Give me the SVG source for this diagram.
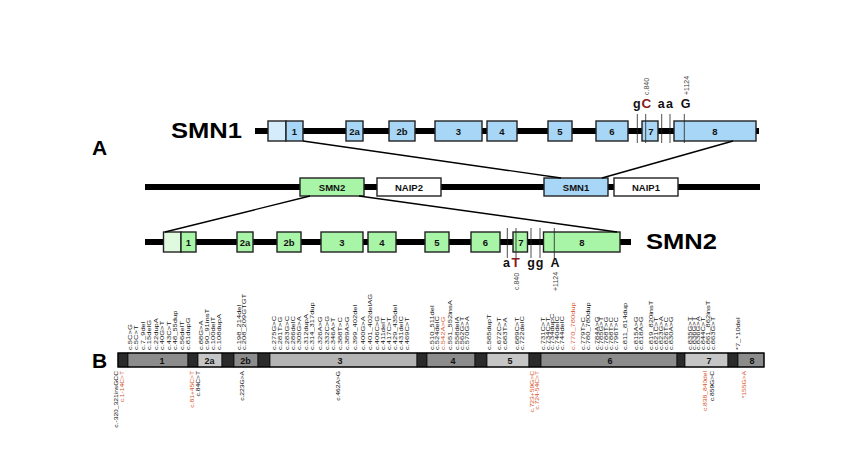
<svg xmlns="http://www.w3.org/2000/svg" width="850" height="449" viewBox="0 0 850 449">
<style>
text{font-family:"Liberation Sans",Arial,sans-serif}
.big{font-size:22px;font-weight:bold;fill:#000}
.ab{font-size:21px;font-weight:bold;fill:#000}
.ex{font-size:9.5px;font-weight:bold;fill:#111;text-anchor:middle}
.bx{font-size:9.5px;font-weight:bold;fill:#111;text-anchor:middle}
.b1{fill:#a8d6f6;stroke:#222;stroke-width:1.4}
.b1u{fill:#d4ecfc;stroke:#222;stroke-width:1.4}
.g1{fill:#a8f5a8;stroke:#222;stroke-width:1.4}
.g1u{fill:#e0fae0;stroke:#222;stroke-width:1.4}
.w1{fill:#fff;stroke:#222;stroke-width:1.4}
.chr{stroke:#000;stroke-width:6}
.snp{stroke:#222;stroke-width:0.8}
.nt{font-size:12.5px;font-weight:bold;fill:#111;text-anchor:middle}
.ntr{font-size:13.5px;font-weight:bold;fill:#8b1a1a;text-anchor:middle}
.pos{font-size:7px;fill:#444}
.conn{stroke:#000;stroke-width:1.4;fill:none}
.in{fill:#2b2b2b;stroke:#111;stroke-width:0.8}
.e1{fill:#8c8c8c;stroke:#111;stroke-width:0.8}
.e2{fill:#c6c6c6;stroke:#111;stroke-width:0.8}
.e3{fill:#b4b4b4;stroke:#111;stroke-width:0.8}
.m{font-size:5.8px;fill:#111}
.r{fill:#d9542b}
.be{font-size:9px;font-weight:bold;fill:#111;text-anchor:middle}
</style>

<text class="ab" x="92" y="155">A</text>
<text class="ab" x="92" y="368">B</text>

<g id="smn1-gene">
<text class="big" x="171" y="137.5" textLength="71" lengthAdjust="spacingAndGlyphs">SMN1</text>
<line class="chr" x1="255" y1="131" x2="759" y2="131"/>
<rect class="b1u" x="268" y="121" width="18" height="20"/>
<rect class="b1" x="286" y="121" width="17" height="20"/>
<text class="ex" x="294.5" y="134.5">1</text>
<rect class="b1" x="346" y="121" width="17" height="20"/><text class="ex" x="354.5" y="134.5">2a</text>
<rect class="b1" x="389" y="121" width="26" height="20"/><text class="ex" x="402" y="134.5">2b</text>
<rect class="b1" x="435" y="121" width="47" height="20"/><text class="ex" x="458.5" y="134.5">3</text>
<rect class="b1" x="487" y="121" width="30" height="20"/><text class="ex" x="502" y="134.5">4</text>
<rect class="b1" x="548" y="121" width="24" height="20"/><text class="ex" x="560" y="134.5">5</text>
<rect class="b1" x="596" y="121" width="32" height="20"/><text class="ex" x="612" y="134.5">6</text>
<rect class="b1" x="642" y="121" width="16" height="20"/><text class="ex" x="651" y="134.5">7</text>
<rect class="b1" x="674" y="121" width="82" height="20"/><text class="ex" x="715" y="134.5">8</text>
<line class="snp" x1="637.3" y1="114" x2="637.3" y2="143"/>
<line class="snp" x1="645.7" y1="114" x2="645.7" y2="143"/>
<line class="snp" x1="661.7" y1="114" x2="661.7" y2="143"/>
<line class="snp" x1="670" y1="114" x2="670" y2="143"/>
<line class="snp" x1="684.3" y1="114" x2="684.3" y2="143"/>
<text class="nt" x="636.7" y="107.7">g</text>
<text class="ntr" x="646.3" y="107.7">C</text>
<text class="nt" x="661.3" y="107.7">a</text>
<text class="nt" x="669.5" y="107.7">a</text>
<text class="nt" x="685.5" y="107.7">G</text>
<text class="pos" transform="translate(649,95) rotate(-90)">c.840</text>
<text class="pos" transform="translate(688.5,95) rotate(-90)">+1124</text>
</g>

<g id="chromosome">
<line class="chr" x1="145" y1="187" x2="760" y2="187"/>
</g>
<g id="smn2-box"><rect class="g1" x="300" y="178" width="64" height="18"/><text class="bx" x="332" y="190.5">SMN2</text></g>
<g id="naip2-box"><rect class="w1" x="377" y="178" width="64" height="18"/><text class="bx" x="409" y="190.5">NAIP2</text></g>
<g id="smn1-box"><rect class="b1" x="544" y="178" width="64" height="18"/><text class="bx" x="576" y="190.5">SMN1</text></g>
<g id="naip1-box"><rect class="w1" x="614" y="178" width="64" height="18"/><text class="bx" x="646" y="190.5">NAIP1</text></g>

<g id="smn2-gene">
<text class="big" x="646" y="249" textLength="71" lengthAdjust="spacingAndGlyphs">SMN2</text>
<line class="chr" x1="145" y1="242" x2="631" y2="242"/>
<rect class="g1u" x="163.5" y="232" width="17.5" height="20"/>
<rect class="g1" x="181" y="232" width="15" height="20"/><text class="ex" x="188.5" y="245.5">1</text>
<rect class="g1" x="237" y="232" width="16" height="20"/><text class="ex" x="245" y="245.5">2a</text>
<rect class="g1" x="277" y="232" width="24" height="20"/><text class="ex" x="289" y="245.5">2b</text>
<rect class="g1" x="321" y="232" width="42" height="20"/><text class="ex" x="342" y="245.5">3</text>
<rect class="g1" x="368" y="232" width="28" height="20"/><text class="ex" x="382" y="245.5">4</text>
<rect class="g1" x="425" y="232" width="24" height="20"/><text class="ex" x="437" y="245.5">5</text>
<rect class="g1" x="471" y="232" width="29" height="20"/><text class="ex" x="485.5" y="245.5">6</text>
<rect class="g1" x="513" y="232" width="14.5" height="20"/><text class="ex" x="521" y="245.5">7</text>
<rect class="g1" x="543.5" y="232" width="76.5" height="20"/><text class="ex" x="582" y="245.5">8</text>
<line class="snp" x1="507.3" y1="228" x2="507.3" y2="258"/>
<line class="snp" x1="516" y1="228" x2="516" y2="258"/>
<line class="snp" x1="531" y1="228" x2="531" y2="258"/>
<line class="snp" x1="540" y1="228" x2="540" y2="258"/>
<line class="snp" x1="554.3" y1="228" x2="554.3" y2="258"/>
<text class="nt" x="506.5" y="267.3">a</text>
<text class="ntr" x="515.7" y="267.3">T</text>
<text class="nt" x="531" y="267.3">g</text>
<text class="nt" x="539.5" y="267.3">g</text>
<text class="nt" x="555" y="267.3">A</text>
<text class="pos" transform="translate(519,290) rotate(-90)">c.840</text>
<text class="pos" transform="translate(557.5,291) rotate(-90)">+1124</text>
</g>

<g id="connectors">
<line class="conn" x1="303" y1="141" x2="561" y2="178"/>
<line class="conn" x1="733" y1="141" x2="602" y2="178"/>
<line class="conn" x1="310" y1="196" x2="165" y2="232"/>
<line class="conn" x1="359" y1="196" x2="617" y2="232"/>
</g>

<g id="transcript-bar">
<rect class="in" x="118" y="353" width="10" height="14"/>
<rect class="e1" x="128" y="353" width="60" height="14"/><text class="be" x="162" y="363.5">1</text>
<rect class="in" x="188" y="353" width="10" height="14"/>
<rect class="e2" x="198" y="353" width="24" height="14"/><text class="be" x="209.5" y="363.5">2a</text>
<rect class="in" x="222" y="353" width="12" height="14"/>
<rect class="e1" x="234" y="353" width="24" height="14"/><text class="be" x="245.5" y="363.5">2b</text>
<rect class="in" x="258" y="353" width="12" height="14"/>
<rect class="e3" x="270" y="353" width="147" height="14"/><text class="be" x="340" y="363.5">3</text>
<rect class="in" x="417" y="353" width="10" height="14"/>
<rect class="e1" x="427" y="353" width="48" height="14"/><text class="be" x="453" y="363.5">4</text>
<rect class="in" x="475" y="353" width="12" height="14"/>
<rect class="e2" x="487" y="353" width="42" height="14"/><text class="be" x="510" y="363.5">5</text>
<rect class="in" x="529" y="353" width="12" height="14"/>
<rect class="e1" x="541" y="353" width="136" height="14"/><text class="be" x="610" y="363.5">6</text>
<rect class="in" x="677" y="353" width="8" height="14"/>
<rect class="e2" x="685" y="353" width="43" height="14"/><text class="be" x="709" y="363.5">7</text>
<rect class="in" x="728" y="353" width="10" height="14"/>
<rect class="e1" x="738" y="353" width="26" height="14"/><text class="be" x="752" y="363.5">8</text>
<rect x="118" y="353" width="646" height="14" fill="none" stroke="#000" stroke-width="1.2"/>
</g>

<g id="mutations-above">
<text class="m" transform="translate(132,350) rotate(-90) scale(1.3,1)">c.5C&gt;G</text>
<text class="m" transform="translate(138.4,350) rotate(-90) scale(1.3,1)">c.5C&gt;T</text>
<text class="m" transform="translate(144.9,350) rotate(-90) scale(1.3,1)">c.7_9del</text>
<text class="m" transform="translate(151.3,350) rotate(-90) scale(1.3,1)">c.15delG</text>
<text class="m" transform="translate(157.8,350) rotate(-90) scale(1.3,1)">c.22dupA</text>
<text class="m" transform="translate(164.2,350) rotate(-90) scale(1.3,1)">c.40G&gt;T</text>
<text class="m" transform="translate(170.7,350) rotate(-90) scale(1.3,1)">c.43C&gt;T</text>
<text class="m" transform="translate(177.1,350) rotate(-90) scale(1.3,1)">c.48_55dup</text>
<text class="m" transform="translate(183.6,350) rotate(-90) scale(1.3,1)">c.56delT</text>
<text class="m" transform="translate(190,350) rotate(-90) scale(1.3,1)">c.81dupG</text>
<text class="m" transform="translate(203,350) rotate(-90) scale(1.3,1)">c.88G&gt;A</text>
<text class="m" transform="translate(208.5,350) rotate(-90) scale(1.3,1)">c.90_91insT</text>
<text class="m" transform="translate(215,350) rotate(-90) scale(1.3,1)">c.100delT</text>
<text class="m" transform="translate(220.5,350) rotate(-90) scale(1.3,1)">c.108dupA</text>
<text class="m" transform="translate(240.7,350) rotate(-90) scale(1.3,1)">c.198_214del</text>
<text class="m" transform="translate(245.7,350) rotate(-90) scale(1.3,1)">c.208_209GTGT</text>
<text class="m" transform="translate(276,350) rotate(-90) scale(1.3,1)">c.275G&gt;C</text>
<text class="m" transform="translate(282.3,350) rotate(-90) scale(1.3,1)">c.281T&gt;G</text>
<text class="m" transform="translate(288.7,350) rotate(-90) scale(1.3,1)">c.283G&gt;C</text>
<text class="m" transform="translate(295,350) rotate(-90) scale(1.3,1)">c.286delC</text>
<text class="m" transform="translate(301.3,350) rotate(-90) scale(1.3,1)">c.305G&gt;A</text>
<text class="m" transform="translate(307.7,350) rotate(-90) scale(1.3,1)">c.312dupA</text>
<text class="m" transform="translate(314,350) rotate(-90) scale(1.3,1)">c.314_317dup</text>
<text class="m" transform="translate(322,350) rotate(-90) scale(1.3,1)">c.326A&gt;G</text>
<text class="m" transform="translate(328.7,350) rotate(-90) scale(1.3,1)">c.332C&gt;G</text>
<text class="m" transform="translate(335.3,350) rotate(-90) scale(1.3,1)">c.346A&gt;T</text>
<text class="m" transform="translate(342,350) rotate(-90) scale(1.3,1)">c.388T&gt;C</text>
<text class="m" transform="translate(348.7,350) rotate(-90) scale(1.3,1)">c.389A&gt;G</text>
<text class="m" transform="translate(357,350) rotate(-90) scale(1.3,1)">c.399_402del</text>
<text class="m" transform="translate(364.5,350) rotate(-90) scale(1.3,1)">c.400G&gt;A</text>
<text class="m" transform="translate(372,350) rotate(-90) scale(1.3,1)">c.401_402delAG</text>
<text class="m" transform="translate(379,350) rotate(-90) scale(1.3,1)">c.406C&gt;G</text>
<text class="m" transform="translate(385,350) rotate(-90) scale(1.3,1)">c.411delT</text>
<text class="m" transform="translate(391,350) rotate(-90) scale(1.3,1)">c.417C&gt;T</text>
<text class="m" transform="translate(397,350) rotate(-90) scale(1.3,1)">c.429_435del</text>
<text class="m" transform="translate(403,350) rotate(-90) scale(1.3,1)">c.431delC</text>
<text class="m" transform="translate(409,350) rotate(-90) scale(1.3,1)">c.469C&gt;T</text>
<text class="m" transform="translate(433.7,350) rotate(-90) scale(1.3,1)">c.510_511del</text>
<text class="m" transform="translate(438.7,350) rotate(-90) scale(1.3,1)">c.524delC</text>
<text class="m r" transform="translate(444.7,350) rotate(-90) scale(1.3,1)">c.542A&gt;G</text>
<text class="m" transform="translate(452,350) rotate(-90) scale(1.3,1)">c.551_552insA</text>
<text class="m" transform="translate(458.7,350) rotate(-90) scale(1.3,1)">c.558delA</text>
<text class="m" transform="translate(463.7,350) rotate(-90) scale(1.3,1)">c.562G&gt;T</text>
<text class="m" transform="translate(468.7,350) rotate(-90) scale(1.3,1)">c.570G&gt;A</text>
<text class="m" transform="translate(491.3,350) rotate(-90) scale(1.3,1)">c.585dupT</text>
<text class="m" transform="translate(501.3,350) rotate(-90) scale(1.3,1)">c.672C&gt;T</text>
<text class="m" transform="translate(507,350) rotate(-90) scale(1.3,1)">c.683T&gt;A</text>
<text class="m" transform="translate(519.3,350) rotate(-90) scale(1.3,1)">c.689C&gt;T</text>
<text class="m" transform="translate(523.7,350) rotate(-90) scale(1.3,1)">c.722delC</text>
<text class="m" transform="translate(545.3,350) rotate(-90) scale(1.3,1)">c.731C&gt;T</text>
<text class="m" transform="translate(549.7,350) rotate(-90) scale(1.3,1)">c.734C&gt;T</text>
<text class="m" transform="translate(554.3,350) rotate(-90) scale(1.3,1)">c.734dupC</text>
<text class="m" transform="translate(559.3,350) rotate(-90) scale(1.3,1)">c.740delC</text>
<text class="m" transform="translate(564.3,350) rotate(-90) scale(1.3,1)">c.744delC</text>
<text class="m r" transform="translate(575.3,350) rotate(-90) scale(1.3,1)">c.770_780dup</text>
<text class="m" transform="translate(585.3,350) rotate(-90) scale(1.3,1)">c.779T&gt;C</text>
<text class="m" transform="translate(590.3,350) rotate(-90) scale(1.3,1)">c.780_780dup</text>
<text class="m" transform="translate(598.7,350) rotate(-90) scale(1.3,1)">c.784A&gt;G</text>
<text class="m" transform="translate(603,350) rotate(-90) scale(1.3,1)">c.785G&gt;T</text>
<text class="m" transform="translate(608,350) rotate(-90) scale(1.3,1)">c.788T&gt;G</text>
<text class="m" transform="translate(613,350) rotate(-90) scale(1.3,1)">c.788T&gt;C</text>
<text class="m" transform="translate(618,350) rotate(-90) scale(1.3,1)">c.796T&gt;C</text>
<text class="m" transform="translate(627,350) rotate(-90) scale(1.3,1)">c.811_814dup</text>
<text class="m" transform="translate(638,350) rotate(-90) scale(1.3,1)">c.815A&gt;G</text>
<text class="m" transform="translate(642.7,350) rotate(-90) scale(1.3,1)">c.818A&gt;G</text>
<text class="m" transform="translate(653,350) rotate(-90) scale(1.3,1)">c.819_820insT</text>
<text class="m" transform="translate(658,350) rotate(-90) scale(1.3,1)">c.821C&gt;T</text>
<text class="m" transform="translate(662.7,350) rotate(-90) scale(1.3,1)">c.823G&gt;A</text>
<text class="m" transform="translate(668,350) rotate(-90) scale(1.3,1)">c.826T&gt;C</text>
<text class="m" transform="translate(672.7,350) rotate(-90) scale(1.3,1)">c.830A&gt;G</text>
<text class="m" transform="translate(692,350) rotate(-90) scale(1.3,1)">c.835G&gt;T</text>
<text class="m" transform="translate(696,350) rotate(-90) scale(1.3,1)">c.836G&gt;T</text>
<text class="m" transform="translate(700.3,350) rotate(-90) scale(1.3,1)">c.836G&gt;A</text>
<text class="m" transform="translate(704.7,350) rotate(-90) scale(1.3,1)">c.844C&gt;T</text>
<text class="m" transform="translate(709.7,350) rotate(-90) scale(1.3,1)">c.861_862insT</text>
<text class="m" transform="translate(714.7,350) rotate(-90) scale(1.3,1)">c.863G&gt;T</text>
<text class="m" transform="translate(740.3,350) rotate(-90) scale(1.3,1)">*7_*10del</text>
</g>

<g id="mutations-below" text-anchor="end">
<text class="m" transform="translate(118,371) rotate(-90) scale(1.15,1)">c.-320_321insGCC</text>
<text class="m r" transform="translate(124,371) rotate(-90) scale(1.15,1)">c.1-14C&gt;T</text>
<text class="m r" transform="translate(194,371) rotate(-90) scale(1.15,1)">c.81+45C&gt;T</text>
<text class="m" transform="translate(200,371) rotate(-90) scale(1.15,1)">c.84C&gt;T</text>
<text class="m" transform="translate(244,371) rotate(-90) scale(1.15,1)">c.223G&gt;A</text>
<text class="m" transform="translate(340,371) rotate(-90) scale(1.15,1)">c.462A&gt;G</text>
<text class="m r" transform="translate(533.7,371) rotate(-90) scale(1.15,1)">c.723+59G&gt;C</text>
<text class="m r" transform="translate(539.3,371) rotate(-90) scale(1.15,1)">c.724-54C&gt;T</text>
<text class="m r" transform="translate(707,371) rotate(-90) scale(1.15,1)">c.838_840del</text>
<text class="m" transform="translate(713.7,371) rotate(-90) scale(1.15,1)">c.859G&gt;C</text>
<text class="m r" transform="translate(746,371) rotate(-90) scale(1.15,1)">*155G&gt;A</text>
</g>
</svg>
